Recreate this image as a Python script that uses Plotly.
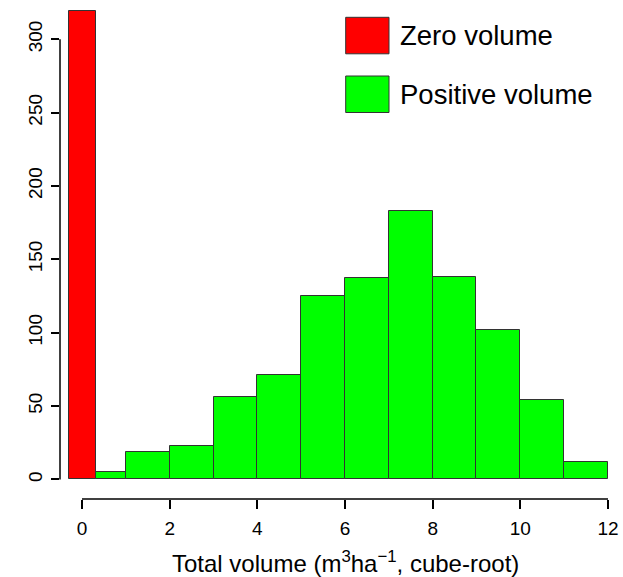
import plotly.graph_objects as go

# Data
zero_edges = [-0.30, 0.31]
zero_counts = [319]
pos_edges = [0.31, 1, 2, 3, 4, 5, 6, 7, 8, 9, 10, 11, 12]
pos_counts = [5, 19, 23, 56, 71, 125, 137, 183, 138, 102, 54, 12]
x_ticks = [0, 2, 4, 6, 8, 10, 12]
y_ticks = [0, 50, 100, 150, 200, 250, 300]
legend_labels = ["Zero volume", "Positive volume"]
colors = ["#FF0000", "#00FF00"]


def centers(edges):
    return [(a + b) / 2 for a, b in zip(edges[:-1], edges[1:])]


def widths(edges):
    return [b - a for a, b in zip(edges[:-1], edges[1:])]


fig = go.Figure()
for edges, counts, col in [(zero_edges, zero_counts, colors[0]), (pos_edges, pos_counts, colors[1])]:
    fig.add_trace(go.Bar(
        x=centers(edges), y=counts, width=widths(edges),
        marker=dict(color=col, line=dict(color="#333333", width=1)),
        showlegend=False,
    ))

font = "Liberation Sans, Arial, sans-serif"
# body margin is removed by the post script, so the figure fills the window
OFF = 0
W, H = 623 - OFF, 577 - OFF
ML, MR, MT, MB = 60 - OFF, 3, 8 - OFF, 78
PW, PH = W - ML - MR, H - MT - MB

fig.update_layout(
    width=W, height=H,
    margin=dict(l=ML, r=MR, t=MT, b=MB),
    paper_bgcolor="white", plot_bgcolor="white",
    bargap=0,
    font=dict(family=font, color="black", size=19),
    xaxis=dict(range=[-0.502, 12.274], tickvals=x_ticks, ticks="outside", ticklen=9,
               tickwidth=1.5, tickcolor="black", showgrid=False, zeroline=False,
               showline=False, tickfont=dict(size=19), automargin=False,
               ticklabelstandoff=3, ticklabeloverflow="allow"),
    yaxis=dict(range=[-13.3, 321.3], tickvals=y_ticks, ticks="outside", ticklen=8,
               tickwidth=1.5, tickcolor="black", showgrid=False, zeroline=False,
               showline=False, tickangle=-90, tickfont=dict(size=19),
               automargin=False, ticklabelstandoff=1, ticklabeloverflow="allow"),
)

# R-style axis lines spanning only the tick range
fig.add_shape(type="line", xref="paper", yref="y", x0=0, x1=0,
              y0=min(y_ticks), y1=max(y_ticks), line=dict(color="black", width=1.5))
fig.add_shape(type="line", xref="x", yref="paper", x0=min(x_ticks), x1=max(x_ticks),
              y0=0, y1=0, line=dict(color="black", width=1.5))

# x-axis title
fig.add_annotation(xref="x", yref="paper", x=(min(x_ticks) + max(x_ticks)) / 2, y=0,
                   yshift=-63, yanchor="middle", xanchor="center", showarrow=False,
                   text="Total volume (m<sup>3</sup>ha<sup>\u22121</sup>, cube-root)",
                   font=dict(size=24, family=font))

# Manual legend (box + label), positions in page pixels
box_left, box_right, text_left = 345.7, 389, 398
box_tops = [17.3, 76]
box_h = 36.5
for lab, col, top in zip(legend_labels, colors, box_tops):
    y1 = 1 - (top - OFF - MT) / PH
    y0 = 1 - (top + box_h - OFF - MT) / PH
    fig.add_shape(type="rect", xref="paper", yref="paper",
                  x0=(box_left - OFF - ML) / PW, x1=(box_right - OFF - ML) / PW,
                  y0=y0, y1=y1, fillcolor=col, line=dict(color="#333333", width=1))
    fig.add_annotation(xref="paper", yref="paper", x=(text_left - OFF - ML) / PW,
                       y=(y0 + y1) / 2, xanchor="left", yanchor="middle",
                       showarrow=False, text=lab, font=dict(size=27.5, family=font))

# remove the default page margin and scrollbars; hide the mode bar
fig.write_html("out.html",
               config={"displayModeBar": False},
               post_script="document.body.style.margin='0';"
                           "document.documentElement.style.overflow='hidden';"
                           "document.body.style.overflow='hidden';")
